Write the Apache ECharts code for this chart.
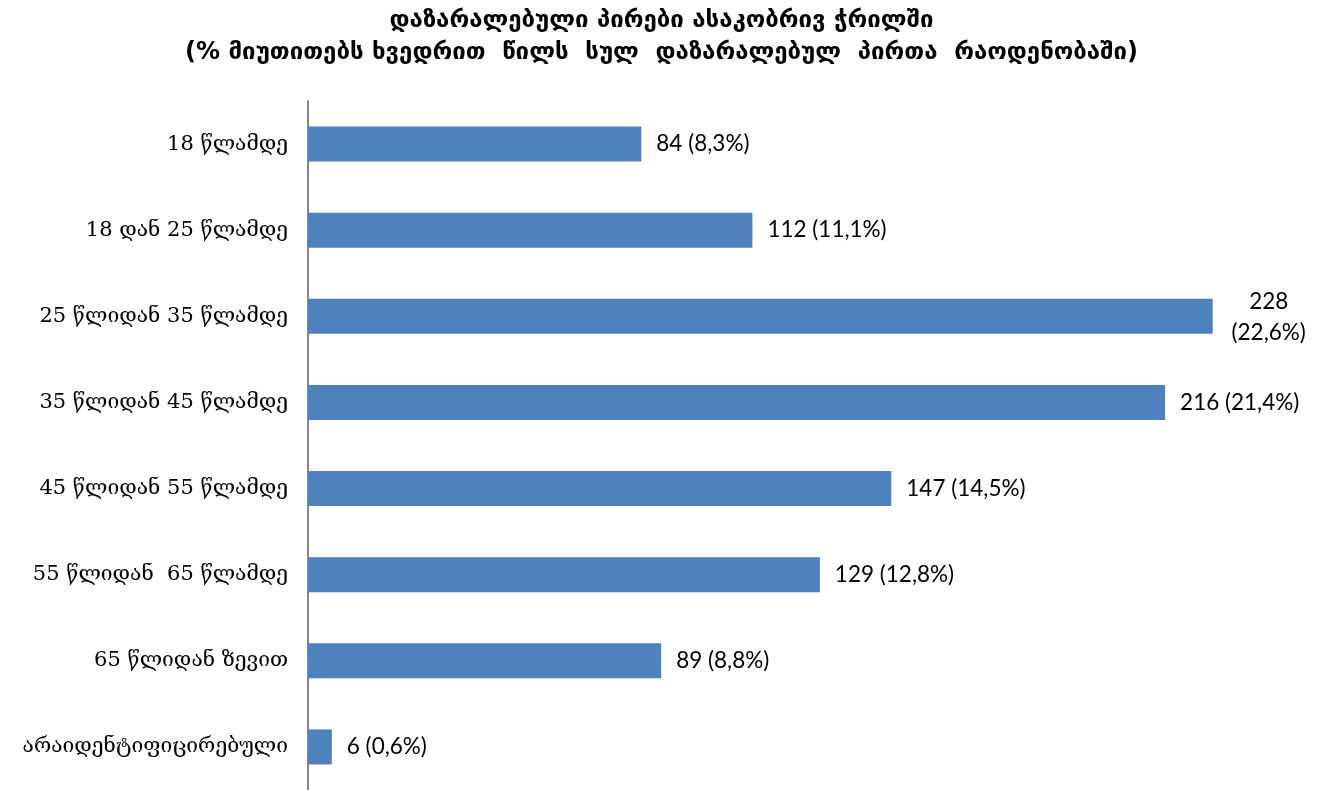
<!DOCTYPE html>
<html><head><meta charset="utf-8">
<script src="https://cdn.jsdelivr.net/npm/echarts@6/dist/echarts.min.js"></script>
<style>html,body{margin:0;padding:0;background:#fff}#c{width:1323px;height:790px}</style>
</head><body><div id="c"></div>
<script>
const titleLines = ["დაზარალებული პირები ასაკობრივ ჭრილში", "(% მიუთითებს ხვედრით  წილს  სულ  დაზარალებულ  პირთა  რაოდენობაში)"];
const categories = ["18 წლამდე", "18 დან 25 წლამდე", "25 წლიდან 35 წლამდე", "35 წლიდან 45 წლამდე", "45 წლიდან 55 წლამდე", "55 წლიდან  65 წლამდე", "65 წლიდან ზევით", "არაიდენტიფიცირებული"];
const counts = [84, 112, 228, 216, 147, 129, 89, 6];
const percents = ["8,3", "11,1", "22,6", "21,4", "14,5", "12,8", "8,8", "0,6"];

const chart = echarts.init(document.getElementById('c'));
const data = counts.map((v, i) => {
  const item = { value: v };
  if (v === 228) {
    item.label = { formatter: v + '\n(' + percents[i] + '%)', align: 'center', offset: [41, 1], lineHeight: 31 };
  }
  return item;
});
chart.setOption({
  animation: false,
  title: {
    text: titleLines.join('\n'),
    left: 'center', top: 0,
    textStyle: { fontFamily: 'DejaVu Sans', fontSize: 24, fontWeight: 'bold', color: '#000', lineHeight: 32 }
  },
  grid: { left: 308, right: 23, top: 101, bottom: -2, containLabel: false },
  xAxis: {
    type: 'value', min: 0, max: 250, show: false
  },
  yAxis: {
    type: 'category', data: categories, inverse: true,
    axisLine: { lineStyle: { color: '#868686', width: 2 } },
    axisTick: { show: false },
    axisLabel: { margin: 20, fontFamily: 'DejaVu Serif', fontSize: 21, color: '#000' }
  },
  series: [{
    type: 'bar', data: data, barWidth: 35,
    itemStyle: { color: '#4F81BD' },
    label: {
      show: true, position: 'right', distance: 15,
      fontFamily: 'Lato', fontSize: 22.5, color: '#000',
      formatter: p => p.value + ' (' + percents[p.dataIndex] + '%)'
    }
  }]
});
</script></body></html>
